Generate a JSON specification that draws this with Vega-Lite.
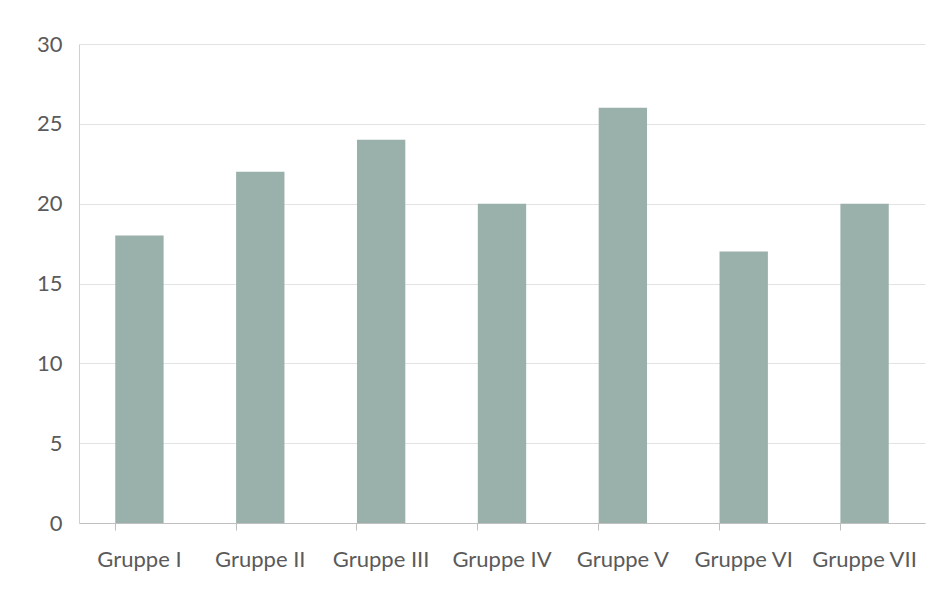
{
  "$schema": "https://vega.github.io/schema/vega-lite/v6.json",
  "autosize": "none",
  "width": 846,
  "height": 479,
  "padding": {"left": 79, "top": 44, "right": 27, "bottom": 75},
  "background": "white",
  "config": {
    "view": {"stroke": null},
    "font": "Lato",
    "axis": {"labelFont": "Lato", "labelColor": "#5a5a5a", "labelFontSize": 22}
  },
  "data": {
    "values": [
      {"gruppe": "Gruppe I", "wert": 18},
      {"gruppe": "Gruppe II", "wert": 22},
      {"gruppe": "Gruppe III", "wert": 24},
      {"gruppe": "Gruppe IV", "wert": 20},
      {"gruppe": "Gruppe V", "wert": 26},
      {"gruppe": "Gruppe VI", "wert": 17},
      {"gruppe": "Gruppe VII", "wert": 20}
    ]
  },
  "mark": {"type": "bar", "color": "#99b0ab"},
  "encoding": {
    "x": {
      "field": "gruppe",
      "type": "nominal",
      "sort": null,
      "title": null,
      "scale": {"paddingInner": 0.6, "paddingOuter": 0.3},
      "axis": {
        "labelAngle": 0,
        "bandPosition": 0,
        "tickSize": 7,
        "tickColor": "#bfbfbf",
        "domainColor": "#bfbfbf",
        "labelPadding": 19,
        "grid": false
      }
    },
    "y": {
      "field": "wert",
      "type": "quantitative",
      "title": null,
      "scale": {"domain": [0, 30]},
      "axis": {
        "values": [0, 5, 10, 15, 20, 25, 30],
        "ticks": false,
        "domainColor": "#d0d0d0",
        "gridColor": "#e3e3e3",
        "labelPadding": 17
      }
    }
  }
}
